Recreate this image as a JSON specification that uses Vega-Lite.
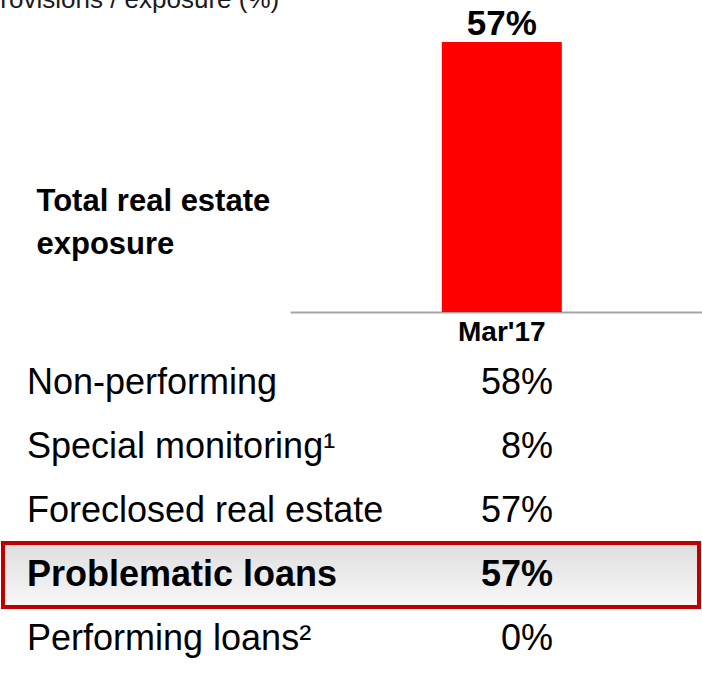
{
  "$schema": "https://vega.github.io/schema/vega-lite/v6.json",
  "width": 702,
  "height": 690,
  "padding": 0,
  "autosize": {"type": "none"},
  "background": "white",
  "config": {"view": {"stroke": null}, "font": "Liberation Sans"},
  "title": {
    "text": "Provisions / exposure (%)",
    "anchor": "start",
    "frame": "group",
    "orient": "top",
    "offset": 0,
    "dx": -17,
    "dy": 34,
    "baseline": "alphabetic",
    "font": "Liberation Sans",
    "fontSize": 26,
    "fontWeight": "normal",
    "color": "#1a1a1a"
  },
  "datasets": {
    "exposure": [{"period": "Mar'17", "value": 57}],
    "ratios": [
      {"label": "Non-performing", "pct": 58, "type": "item"},
      {"label": "Special monitoring¹", "pct": 8, "type": "item"},
      {"label": "Foreclosed real estate", "pct": 57, "type": "item"},
      {"label": "Problematic loans", "pct": 57, "type": "subtotal"},
      {"label": "Performing loans²", "pct": 0, "type": "item"}
    ]
  },
  "layer": [
    {
      "data": {"name": "exposure"},
      "encoding": {
        "x": {
          "field": "period",
          "type": "nominal",
          "scale": {"range": [290, 702], "paddingInner": 0.178, "paddingOuter": 1, "align": 0.52},
          "axis": {
            "title": null,
            "orient": "bottom",
            "offset": -378,
            "domainColor": "#A6A6A6",
            "domainWidth": 2,
            "ticks": false,
            "tickSize": 0,
            "labelPadding": 6,
            "labelFont": "Liberation Sans",
            "labelFontWeight": "bold",
            "labelFontSize": 28,
            "labelColor": "#000000",
            "labelAngle": 0
          }
        },
        "y": {
          "field": "value",
          "type": "quantitative",
          "scale": {"domain": [0, 65.87], "range": [312, 0], "nice": false, "zero": true},
          "axis": {
            "title": ["Total real estate", "exposure"],
            "labels": false,
            "ticks": false,
            "domain": false,
            "grid": false,
            "titleAngle": 0,
            "titleAlign": "left",
            "titleBaseline": "alphabetic",
            "titleX": 36,
            "titleY": 210,
            "titleFontSize": 31,
            "titleFontWeight": "bold",
            "titleFont": "Liberation Sans",
            "titleColor": "#000000",
            "titleLineHeight": 43
          }
        }
      },
      "layer": [
        {"mark": {"type": "bar", "color": "#FF0000"}},
        {
          "transform": [{"calculate": "datum.value + '%'", "as": "label"}],
          "mark": {"type": "text", "baseline": "alphabetic", "dy": -7, "fontSize": 35, "fontWeight": "bold", "font": "Liberation Sans", "color": "#000000"},
          "encoding": {"text": {"field": "label"}}
        }
      ]
    },
    {
      "data": {"name": "ratios"},
      "transform": [{"calculate": "datum.pct + '%'", "as": "pctText"}],
      "encoding": {
        "y": {
          "field": "label",
          "type": "nominal",
          "sort": null,
          "scale": {"range": [351, 671], "paddingInner": 0, "paddingOuter": 0},
          "axis": null
        }
      },
      "layer": [
        {
          "mark": {
            "type": "rect",
            "fill": {"gradient": "linear", "x1": 0, "y1": 0, "x2": 0, "y2": 1, "stops": [{"offset": 0, "color": "#DEDEDE"}, {"offset": 1, "color": "#F8F8F8"}]},
            "stroke": "#C00000",
            "strokeWidth": 4
          },
          "encoding": {
            "x": {"datum": 0, "type": "quantitative", "scale": {"domain": [0, 1], "range": [3, 699]}, "axis": null},
            "x2": {"datum": 1},
            "opacity": {"condition": {"test": "datum.type === 'subtotal'", "value": 1}, "value": 0}
          }
        },
        {
          "layer": [
            {
              "transform": [{"filter": "datum.type !== 'subtotal'"}],
              "mark": {"type": "text", "align": "left", "baseline": "middle", "font": "Liberation Sans", "fontSize": 36, "color": "#000000"},
              "encoding": {
                "x": {"datum": "label", "type": "nominal", "scale": {"type": "point", "domain": ["label", "value"], "range": [27, 553], "padding": 0}, "axis": null},
                "text": {"field": "label"}
              }
            },
            {
              "transform": [{"filter": "datum.type === 'subtotal'"}],
              "mark": {"type": "text", "align": "left", "baseline": "middle", "font": "Liberation Sans", "fontSize": 36, "fontWeight": "bold", "color": "#000000"},
              "encoding": {
                "x": {"datum": "label", "type": "nominal", "axis": null},
                "text": {"field": "label"}
              }
            },
            {
              "transform": [{"filter": "datum.type !== 'subtotal'"}],
              "mark": {"type": "text", "align": "right", "baseline": "middle", "font": "Liberation Sans", "fontSize": 36, "color": "#000000"},
              "encoding": {
                "x": {"datum": "value", "type": "nominal", "axis": null},
                "text": {"field": "pctText"}
              }
            },
            {
              "transform": [{"filter": "datum.type === 'subtotal'"}],
              "mark": {"type": "text", "align": "right", "baseline": "middle", "font": "Liberation Sans", "fontSize": 36, "fontWeight": "bold", "color": "#000000"},
              "encoding": {
                "x": {"datum": "value", "type": "nominal", "axis": null},
                "text": {"field": "pctText"}
              }
            }
          ]
        }
      ],
      "resolve": {"scale": {"x": "independent"}}
    }
  ],
  "resolve": {"scale": {"x": "independent", "y": "independent"}}
}
